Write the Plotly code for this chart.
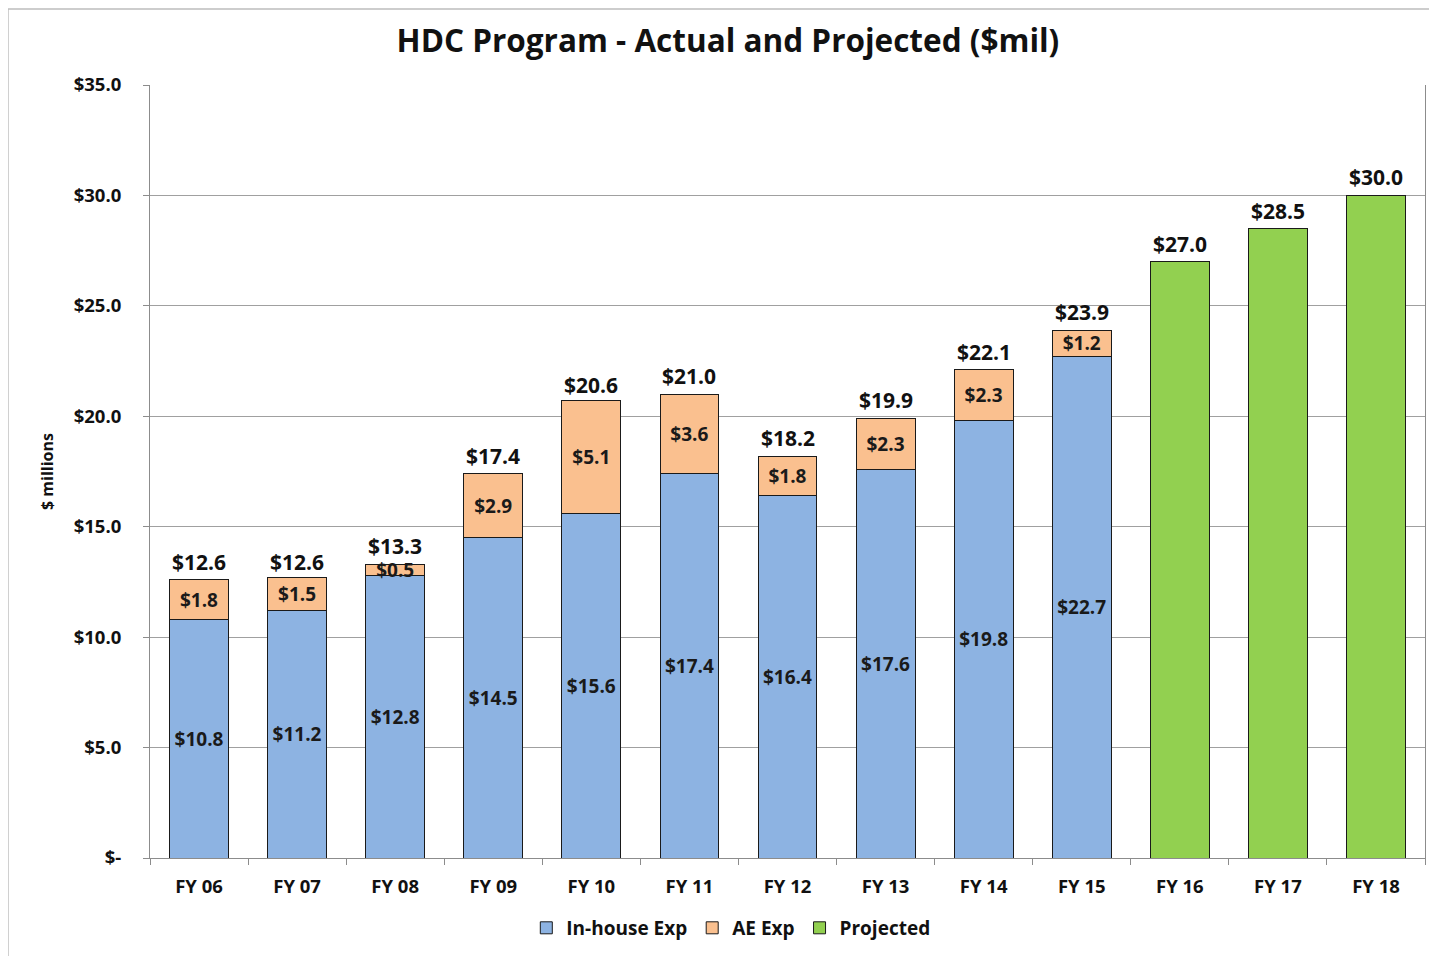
import plotly.graph_objects as go

categories = ["FY 06", "FY 07", "FY 08", "FY 09", "FY 10", "FY 11", "FY 12",
              "FY 13", "FY 14", "FY 15", "FY 16", "FY 17", "FY 18"]
actual_cats = categories[:10]
proj_cats = categories[10:]
inhouse = [10.8, 11.2, 12.8, 14.5, 15.6, 17.4, 16.4, 17.6, 19.8, 22.7]
ae = [1.8, 1.5, 0.5, 2.9, 5.1, 3.6, 1.8, 2.3, 2.3, 1.2]
projected = [27.0, 28.5, 30.0]
totals = [12.6, 12.6, 13.3, 17.4, 20.6, 21.0, 18.2, 19.9, 22.1, 23.9, 27.0, 28.5, 30.0]
ytickvals = [0, 5, 10, 15, 20, 25, 30, 35]
yticktext = ["$-", "$5.0", "$10.0", "$15.0", "$20.0", "$25.0", "$30.0", "$35.0"]

FONT = "'Open Sans', Lato, sans-serif"
line = dict(color="#1a1a1a", width=1)

fig = go.Figure()
fig.add_trace(go.Bar(
    x=actual_cats, y=inhouse, name="In-house Exp",
    marker=dict(color="#8DB3E2", line=line),
    text=[f"${v:.1f}" for v in inhouse], textposition="inside",
    insidetextanchor="middle",
    textfont=dict(family=FONT, size=19, color="#1a1a1a", weight="bold"),
))
fig.add_trace(go.Bar(
    x=actual_cats, y=ae, name="AE Exp",
    marker=dict(color="#FAC08F", line=line),
    text=[f"${v:.1f}" for v in ae], textposition="inside",
    insidetextanchor="middle",
    textfont=dict(family=FONT, size=19, color="#1a1a1a", weight="bold"),
))
fig.add_trace(go.Bar(
    x=proj_cats, y=projected, name="Projected",
    marker=dict(color="#92D050", line=line),
    textposition="none",
))

for c, t in zip(categories, totals):
    fig.add_annotation(x=c, y=t, text=f"${t:.1f}", showarrow=False,
                       yanchor="bottom", yshift=2,
                       font=dict(family=FONT, size=21, color="#111111", weight="bold"))

# outer frame (left and top borders)
fig.add_shape(type="line", xref="paper", yref="paper",
              x0=-0.1114, x1=-0.1114, y0=-0.2, y1=1.0983,
              line=dict(color="#BDBDBD", width=1.5), layer="below")
fig.add_shape(type="line", xref="paper", yref="paper",
              x0=-0.1114, x1=1.03, y0=1.0983, y1=1.0983,
              line=dict(color="#BDBDBD", width=1.5), layer="below")

fig.update_layout(
    width=1437, height=956,
    barmode="stack", bargap=0.4,
    paper_bgcolor="white", plot_bgcolor="white",
    margin=dict(l=142, r=20, t=77, b=106, autoexpand=False),
    title=dict(text="<b>HDC Program - Actual and Projected ($mil)</b>",
               x=0.501, xref="container", xanchor="center",
               y=0.965, yanchor="middle",
               font=dict(family=FONT, size=31.5, color="#111111")),
    font=dict(family=FONT, color="#111111"),
    uniformtext=dict(minsize=19, mode="show"),
    legend=dict(orientation="h", x=0.503, xanchor="center", xref="container",
                y=0.0377, yref="container", yanchor="middle",
                font=dict(family=FONT, size=19, color="#111111", weight="bold"),
                itemwidth=30, traceorder="normal"),
    showlegend=True,
)
fig.update_xaxes(
    categoryorder="array", categoryarray=categories, automargin=False,
    showline=True, linecolor="#8c8c8c", linewidth=1,
    ticks="outside", tickson="boundaries", ticklen=6, tickcolor="#8c8c8c",
    ticklabelstandoff=12,
    tickfont=dict(family=FONT, size=18.5, color="#111111", weight="bold"),
    showgrid=False,
)
fig.update_yaxes(
    range=[0, 35], tickvals=ytickvals, ticktext=yticktext, automargin=False,
    showline=True, linecolor="#8c8c8c", linewidth=1, mirror=True,
    ticks="outside", ticklen=6, tickcolor="#8c8c8c",
    ticklabelstandoff=18,
    showgrid=True, gridcolor="#a0a0a0", gridwidth=1,
    tickfont=dict(family=FONT, size=18.5, color="#111111", weight="bold"),
    title=dict(text="<b>$ millions</b>", standoff=16,
               font=dict(family=FONT, size=16, color="#111111")),
)

fig.write_html("out.html")
